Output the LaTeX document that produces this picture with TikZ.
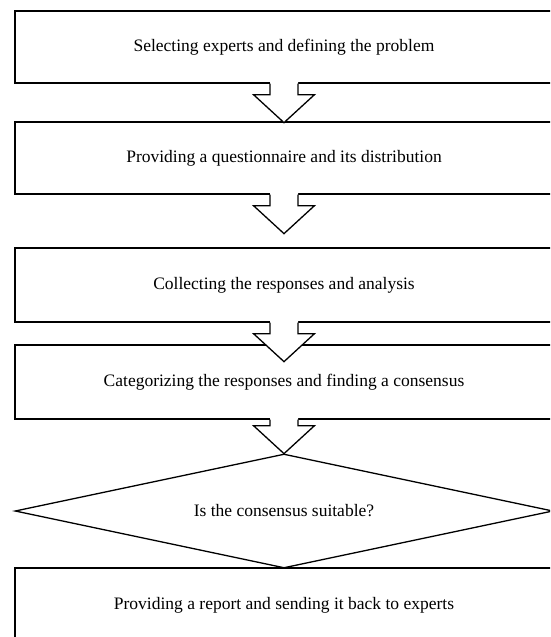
\documentclass[tikz,border=0pt]{standalone}
\usepackage{fontspec}
\setmainfont{Liberation Serif}
\usetikzlibrary{shapes.geometric,calc}
\tikzset{
  stepbox/.style={draw=black, line width=1.3pt, minimum width=538pt, inner sep=0pt,
    font=\fontsize{17.5}{21}\selectfont},
  decisionbox/.style={draw=black, line width=1.3pt, diamond, aspect=4.72,
    minimum width=538pt, minimum height=114pt, inner sep=0pt,
    font=\fontsize{17.5}{21}\selectfont},
  arrline/.style={draw=black, line width=1.3pt, line join=miter},
}
\newcommand\flowarrow[2]{%
  \fill[white] ($(#1.south)+(-14,-2)$) -- ++(0,#2+2) -- ++(-16.5,0) -- ++(30.5,28)
     -- ++(30.5,-28) -- ++(-16.5,0) -- ++(0,-#2-2) -- cycle;
  \draw[arrline] ($(#1.south)+(-14,0)$) -- ++(0,#2) -- ++(-16.5,0) -- ++(30.5,28)
     -- ++(30.5,-28) -- ++(-16.5,0) -- ++(0,-#2);}
\begin{document}
\begin{tikzpicture}[x=1pt,y=-1pt]
\useasboundingbox (0,0) rectangle (550,637);
\clip (0,0) rectangle (550,637);
\fill[white] (0,0) rectangle (550,637);
\node[stepbox, minimum height=72pt] (b1) at (284,47) {Selecting experts and defining the problem};
\node[stepbox, minimum height=72pt] (b2) at (284,158) {Providing a questionnaire and its distribution};
\node[stepbox, minimum height=74pt] (b3) at (284,285) {Collecting the responses and analysis};
\node[stepbox, minimum height=74pt] (b4) at (284,382) {Categorizing the responses and finding a consensus};
\node[decisionbox] (d1) at (284,511) {Is the consensus suitable?};
\node[stepbox, minimum height=74pt] (b5) at (284,605) {Providing a report and sending it back to experts};
\flowarrow{b1}{11}
\flowarrow{b2}{11}
\flowarrow{b3}{11}
\flowarrow{b4}{6}
\end{tikzpicture}
\end{document}
